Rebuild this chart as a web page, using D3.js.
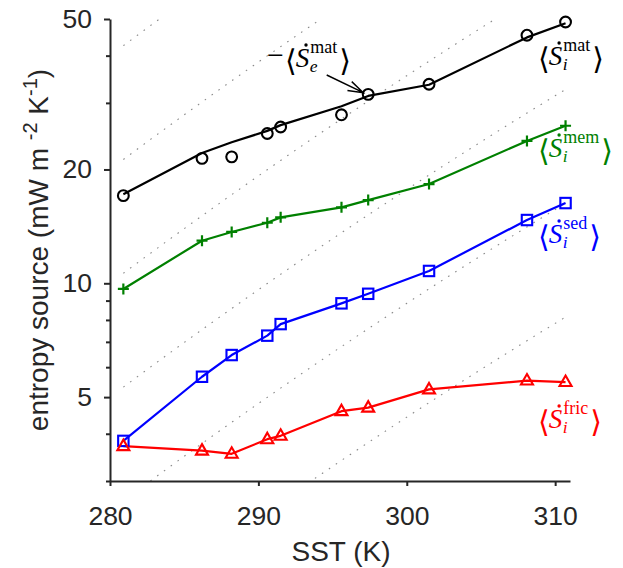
<!DOCTYPE html>
<html><head><meta charset="utf-8">
<script src="https://cdn.jsdelivr.net/npm/d3@7"></script>
<style>body{margin:0;background:#fff}svg{display:block}</style>
</head><body>
<svg id="c" width="623" height="568"></svg>
<script>
// ---- data ----
const sst = [280.9, 286.2, 288.2, 290.6, 291.5, 295.6, 297.4, 301.5, 308.1, 310.7];
const matI = [17.05, 21.4, 21.6, 24.9, 25.9, 27.9, 31.6, 33.6, 45.3, 49.1];   // circles
const matE = [17.2, 22.1, 23.6, 25.3, 26.2, 29.4, 31.3, 33.5, 44.7, 48.7];    // -<Se_mat> line
const mem  = [9.66, 12.96, 13.67, 14.46, 14.94, 15.88, 16.6, 18.3, 23.8, 26.1];
const sed  = [3.83, 5.66, 6.46, 7.27, 7.80, 8.85, 9.38, 10.78, 14.7, 16.3];
const fric = [3.71, 3.61, 3.54, 3.87, 3.95, 4.59, 4.69, 5.24, 5.53, 5.48];
const refConsts = [40, 20, 10, 5, 2.5, 1.25];   // CC reference curves, value at 280 K
const ccB = 5310;                               // L/Rv (K)
const xTicks = [280, 290, 300, 310];
const yMajor = [5, 10, 20, 50];
const yMinor = [3, 4, 6, 7, 8, 9, 30, 40];

const svg = d3.select("#c");
const x = d3.scaleLinear().domain([280, 311]).range([110, 570]);
const y = d3.scaleLog().domain([3, 50]).range([481, 19]);
const axisCol = "#262626";

svg.append("defs").append("clipPath").attr("id","pc")
  .append("rect").attr("x",110).attr("y",19).attr("width",460).attr("height",462);

// reference dotted curves
const refG = svg.append("g").attr("clip-path","url(#pc)");
const tGrid = d3.range(sst[0], sst[sst.length-1], 0.1).concat([sst[sst.length-1]]);
const refLine = d3.line().x(d => x(d[0])).y(d => y(d[1]));
refConsts.forEach(C => {
  const pts = tGrid.map(T => [T, C * Math.exp(ccB * (1/280 - 1/T))]);
  refG.append("path").attr("d", refLine(pts)).attr("fill","none")
    .attr("stroke","#8a8a8a").attr("stroke-width",1.1).attr("stroke-dasharray","1.6 6.8");
});

// axes
const gx = svg.append("g").attr("transform","translate(0,481)")
  .call(d3.axisBottom(x).tickValues(xTicks).tickFormat(d3.format("d")).tickSizeInner(5).tickSizeOuter(0).tickPadding(20));
const gy = svg.append("g").attr("transform","translate(110,0)")
  .call(d3.axisLeft(y).tickValues(yMajor).tickFormat(d3.format("d")).tickSizeInner(6).tickSizeOuter(0).tickPadding(12));
const gym = svg.append("g").attr("transform","translate(110,0)")
  .call(d3.axisLeft(y).tickValues(yMinor).tickFormat("").tickSizeInner(4).tickSizeOuter(0));
gym.select(".domain").remove();
[gx, gy, gym].forEach(g => {
  g.select(".domain").attr("stroke", axisCol).attr("stroke-width", 2);
  g.selectAll(".tick line").attr("stroke", axisCol).attr("stroke-width", 2);
  g.selectAll(".tick text").attr("fill", axisCol).attr("font-family","Liberation Sans, Arial, sans-serif").attr("font-size", 26.5);
});

// axis labels
svg.append("text").attr("x",341).attr("y",561).attr("text-anchor","middle")
  .attr("font-family","Liberation Sans, Arial, sans-serif").attr("font-size",28).attr("fill",axisCol)
  .text("SST (K)");
const yl = svg.append("text").attr("transform","translate(48,250) rotate(-90)").attr("text-anchor","middle")
  .attr("font-family","Liberation Sans, Arial, sans-serif").attr("font-size",28).attr("fill",axisCol);
yl.append("tspan").text("entropy source (mW m ");
yl.append("tspan").attr("dy",-11).attr("font-size",20).text("-2");
yl.append("tspan").attr("dy",11).text(" K");
yl.append("tspan").attr("dy",-11).attr("font-size",20).text("-1");
yl.append("tspan").attr("dy",11).text(")");

// series
const line = d3.line().x((d,i) => x(sst[i])).y(d => y(d));
function drawLine(vals, col){
  svg.append("path").attr("d", line(vals)).attr("fill","none").attr("stroke",col)
    .attr("stroke-width",2.2).attr("stroke-linejoin","round");
}
drawLine(matE, "#000");
drawLine(mem, "#008000");
drawLine(sed, "#0000ff");
drawLine(fric, "#ff0000");

// markers
svg.append("g").selectAll("circle").data(matI).join("circle")
  .attr("cx",(d,i)=>x(sst[i])).attr("cy",d=>y(d)).attr("r",5.4)
  .attr("fill","none").attr("stroke","#000").attr("stroke-width",2.1);
svg.append("g").selectAll("path").data(mem).join("path")
  .attr("d",(d,i)=>{const cx=x(sst[i]),cy=y(d);return `M${cx-5.5},${cy}H${cx+5.5}M${cx},${cy-5.5}V${cy+5.5}`;})
  .attr("stroke","#008000").attr("stroke-width",2.2).attr("fill","none");
svg.append("g").selectAll("rect").data(sed).join("rect")
  .attr("x",(d,i)=>x(sst[i])-5.2).attr("y",d=>y(d)-5.2).attr("width",10.4).attr("height",10.4)
  .attr("fill","none").attr("stroke","#0000ff").attr("stroke-width",2.1);
svg.append("g").selectAll("path").data(fric).join("path")
  .attr("d",(d,i)=>{const cx=x(sst[i]),cy=y(d);return `M${cx},${cy-6.5}L${cx+6},${cy+4}L${cx-6},${cy+4}Z`;})
  .attr("stroke","#ff0000").attr("stroke-width",2.1).attr("fill","none").attr("stroke-linejoin","miter");

// math labels (one text element each, tspans placed by measurement)
const serif = "Liberation Serif, DejaVu Serif, serif";
const meas = svg.append("text").attr("font-family", serif).attr("visibility","hidden");
function w(t, size, italic){
  meas.attr("font-size", size).attr("font-style", italic ? "italic" : "normal").text(t);
  return meas.node().getComputedTextLength();
}
function mathLabel(x0, base, sup, sub, col, neg){
  const T = svg.append("text").attr("fill", col).attr("font-family", serif);
  function span(t, xx, yy, size, italic){
    T.append("tspan").attr("x", xx).attr("y", yy).attr("font-size", size)
      .attr("font-style", italic ? "italic" : "normal").text(t);
  }
  let cx = x0;
  if (neg){ span("\u2212", cx, base-2, 30, false); cx += w("\u2212",30,false) + 1; }
  span("\u27E8", cx, base+4, 30, false); cx += w("\u27E8",30,false) - 1;
  const sw = w("S", 27, true);
  span("S", cx, base, 27, true);
  // dot accent over the S
  svg.append("circle").attr("cx", cx + sw*0.62 + 2).attr("cy", base - 22).attr("r", 1.7).attr("fill", col);
  const supW = w(sup, 18, false), subW = w(sub, 17.5, true);
  span(sup, cx + sw + 1, base - 14.5, 18, false);
  span(sub, cx + sw + 0.5, base + 5, 17.5, true);
  cx += sw + Math.max(supW + 1, subW + 0.5) + 2;
  span("\u27E9", cx, base+4, 30, false);
}
mathLabel(538, 65, "mat", "i", "#000", false);
mathLabel(538, 157, "mem", "i", "#008000", false);
mathLabel(538, 243, "sed", "i", "#0000ff", false);
mathLabel(538, 428, "fric", "i", "#ff0000", false);
mathLabel(267, 67, "mat", "e", "#000", true);
meas.remove();

// arrow
const tip = [363.3, 92.7], tail = [326.7, 75];
const ang = Math.atan2(tip[1]-tail[1], tip[0]-tail[0]);
const hl = 16, ha = 18*Math.PI/180;
svg.append("path")
  .attr("d", `M${tail[0]},${tail[1]}L${tip[0]},${tip[1]}` +
    `M${tip[0]-hl*Math.cos(ang-ha)},${tip[1]-hl*Math.sin(ang-ha)}L${tip[0]},${tip[1]}` +
    `L${tip[0]-hl*Math.cos(ang+ha)},${tip[1]-hl*Math.sin(ang+ha)}`)
  .attr("fill","none").attr("stroke","#000").attr("stroke-width",1.4);
</script>
</body></html>
